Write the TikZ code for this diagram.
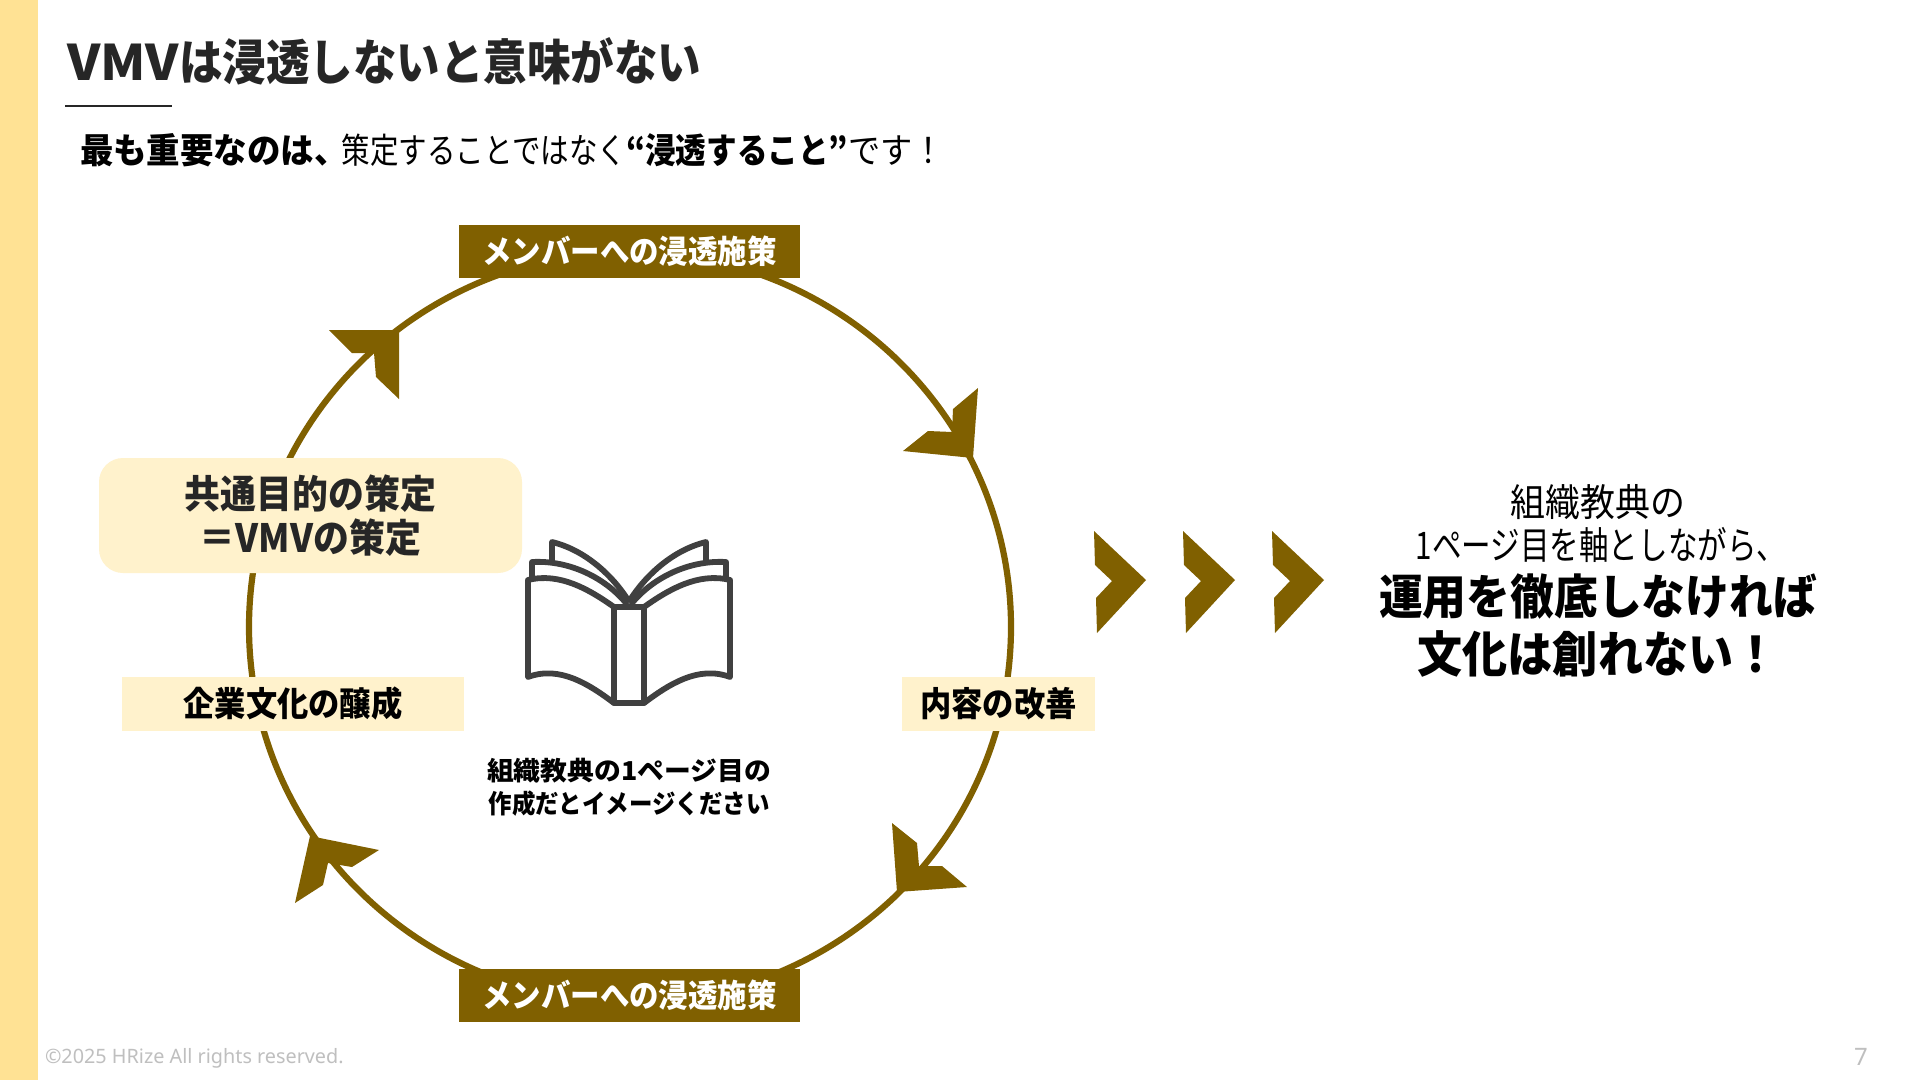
\documentclass[tikz,border=0pt]{standalone}
\usepackage{fontspec}
\setmainfont{Noto Sans CJK JP}[FakeStretch=0.92]
\newfontfamily\latinfoot{Noto Sans}
\definecolor{brownc}{HTML}{806000}
\definecolor{lightc}{HTML}{FFF2CC}
\definecolor{sidec}{HTML}{FFE294}
\definecolor{inkc}{HTML}{262626}
\definecolor{bookc}{HTML}{404040}
\definecolor{footc}{HTML}{BFBFBF}
\newcommand{\fsz}[1]{\fontsize{#1}{#1}\selectfont}
\newcommand{\hsq}[2]{\scalebox{#1}[1]{#2}}
\tikzset{
  brownbox/.style={fill=brownc,text=white,font=\fsz{32}\bfseries,inner sep=0pt,align=center},
  lightbox/.style={fill=lightc,text=black,font=\fsz{34}\bfseries,inner sep=0pt,align=center},
  headfill/.style={fill=brownc,draw=none},
  bookline/.style={draw=bookc,line width=5.8pt,line join=round,line cap=round,fill=white},
  freetext/.style={inner sep=0pt,outer sep=0pt,align=center,text=black},
}
\begin{document}
\begin{tikzpicture}[x=1pt,y=-1pt]
\useasboundingbox (0,0) rectangle (1920,1080);
\fill[white] (0,0) rectangle (1920,1080);
\fill[sidec] (0,0) rectangle (38,1080);
\node[freetext,anchor=west,text=inkc,font=\fsz{49}\bfseries] (title) at (67,61) {\hsq{1.15}{VMV}\hsq{.965}{は浸透しないと意味がない}};
\coordinate (ruleA) at (65,106);
\coordinate (ruleB) at (172,106);
\draw[inkc,line width=1.6pt] (ruleA) -- (ruleB);
\node[freetext,anchor=west,font=\fsz{35}] (sub) at (80,150) {\hsq{1.04}{\textbf{最も重要なのは、}}\hspace{-6pt}\hsq{.885}{策定することではなく}\hsq{.95}{\textbf{“浸透すること”}}です！};
% ring
\coordinate (ringc) at (630,627);
\draw[brownc,line width=6.2pt] (ringc) ellipse[x radius=381,y radius=375];
% arrowheads
\fill[headfill] (399,330) -- (329,330) -- (352,353) -- (374,353) -- (376,377) -- (399,399) -- cycle;
\fill[headfill] (978,388) -- (953,409) -- (952,432) -- (928,431) -- (903,451) -- (973,458) -- cycle;
\fill[headfill] (892,823) -- (917,843) -- (919,866) -- (942,866) -- (967,887) -- (897,892) -- cycle;
\fill[headfill] (379,850) -- (352,867) -- (328,863) -- (323,885) -- (295,903) -- (310,836) -- cycle;
% boxes
\node[brownbox,minimum width=341pt,minimum height=53pt] (top) at (629.5,251.5) {メンバーへの浸透施策};
\node[brownbox,minimum width=341pt,minimum height=53pt] (bot) at (629.5,995) {メンバーへの浸透施策};
\node[lightbox,rounded corners=24pt,minimum width=423pt,minimum height=115pt,font=\fsz{39}\bfseries,text=inkc] (vmv) at (310.5,515.5) {\raisebox{-1pt}{共通目的の策定}\\[5pt]\raisebox{-1pt}{＝VMVの策定}};
\node[lightbox,minimum width=342pt,minimum height=54pt] (culture) at (293,704) {\raisebox{-1pt}{企業文化の醸成}};
\node[lightbox,minimum width=193pt,minimum height=54pt] (improve) at (998.5,704) {\raisebox{-1pt}{内容の改善}};
% book
\draw[bookline] (552,560) -- (552,542) .. controls (585,550) and (612,575) .. (628,600);
\draw[bookline] (706,560) -- (706,542) .. controls (673,550) and (646,575) .. (630,600);
\draw[bookline] (532,578) -- (532,562) .. controls (570,560) and (605,578) .. (626,603);
\draw[bookline] (726,578) -- (726,562) .. controls (688,560) and (653,578) .. (632,603);
\draw[bookline] (614,607) .. controls (590,590) and (560,572) .. (528,580) -- (528,677) .. controls (560,665) and (590,685) .. (614,703) -- cycle;
\draw[bookline] (644,607) .. controls (668,590) and (698,572) .. (730,580) -- (730,677) .. controls (698,665) and (668,685) .. (644,703) -- cycle;
\draw[bookline] (614,607) rectangle (644,703);
\node[freetext,font=\fsz{26}\bfseries,inner sep=0pt] (cap) at (629,787) {\hsq{1.12}{組織教典の1ページ目の}\\[7pt]\hsq{.98}{作成だとイメージください}};
% chevrons
\foreach \dx/\nm in {0/a,89/b,178/c}{
  \fill[headfill,shift={(\dx,0)}] (1094,531) -- (1146,580) -- (1097,633) -- (1096,598) -- (1112,581) -- (1095,565) -- cycle;
}
% right text
\node[freetext,font=\fsz{38}] (r1) at (1598,502) {組織教典の};
\node[freetext,font=\fsz{38}] (r2) at (1601,545) {\hsq{.845}{1ページ目を軸としながら、}};
\node[freetext,font=\fsz{47.6}\bfseries] (r3) at (1598,597) {運用を徹底しなければ};
\node[freetext,font=\fsz{49}\bfseries] (r4) at (1598,654) {文化は創れない！};
% footer
\node[freetext,anchor=west,text=footc,font=\latinfoot\fsz{19.8}] (foot) at (45,1058) {©2025 HRize All rights reserved.};
\node[freetext,text=footc,font=\latinfoot\fsz{24}] (pg) at (1861,1057) {7};
\end{tikzpicture}
\end{document}
